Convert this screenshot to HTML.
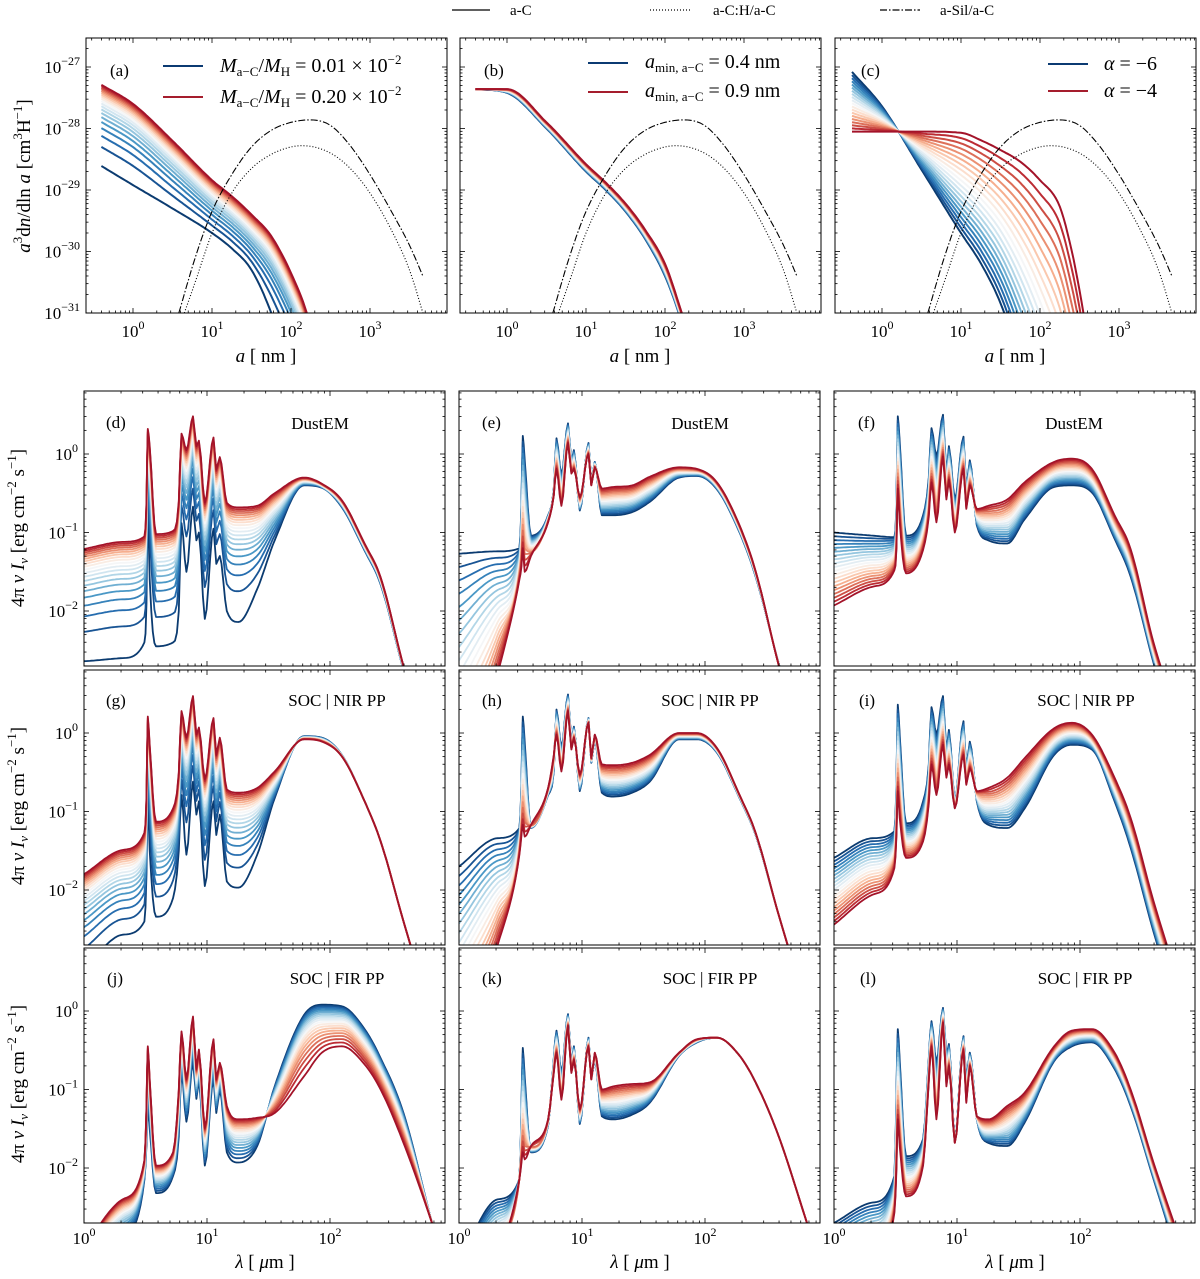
<!DOCTYPE html>
<html><head><meta charset="utf-8"><style>
html,body{margin:0;padding:0;background:#fff;}
svg{display:block;font-family:"Liberation Serif",serif;}
</style></head><body>
<svg id="chart" width="1200" height="1279" viewBox="0 0 1200 1279" xmlns="http://www.w3.org/2000/svg">
<rect x="0" y="0" width="1200" height="1279" fill="#fff"/>
<g font-size="15">
  <line x1="452" y1="10" x2="490" y2="10" stroke="#000" stroke-width="1.3"/>
  <text x="510" y="15">a-C</text>
  <line x1="650" y1="10" x2="690" y2="10" stroke="#000" stroke-width="1.3" stroke-dasharray="1 2"/>
  <text x="713" y="15">a-C:H/a-C</text>
  <line x1="880" y1="10" x2="920" y2="10" stroke="#000" stroke-width="1.3" stroke-dasharray="7 2 1.5 2"/>
  <text x="940" y="15">a-Sil/a-C</text>
</g>
<g id="plots"></g>
<g font-size="19">
  <text transform="translate(30,176) rotate(-90)" text-anchor="middle"><tspan font-style="italic">a</tspan><tspan font-size="13" dy="-8">3</tspan><tspan dy="8">d</tspan><tspan font-style="italic">n</tspan>/dln<tspan font-style="italic"> a</tspan> [cm<tspan font-size="13" dy="-8">3</tspan><tspan dy="8">H</tspan><tspan font-size="13" dy="-8">−1</tspan><tspan dy="8">]</tspan></text>
  <text transform="translate(24,528) rotate(-90)" text-anchor="middle">4π <tspan font-style="italic">ν I</tspan><tspan font-size="13" font-style="italic" dy="4">ν</tspan><tspan dy="-4"> [erg cm</tspan><tspan font-size="13" dy="-8">−2</tspan><tspan dy="8"> s</tspan><tspan font-size="13" dy="-8">−1</tspan><tspan dy="8">]</tspan></text>
  <text transform="translate(24,806) rotate(-90)" text-anchor="middle">4π <tspan font-style="italic">ν I</tspan><tspan font-size="13" font-style="italic" dy="4">ν</tspan><tspan dy="-4"> [erg cm</tspan><tspan font-size="13" dy="-8">−2</tspan><tspan dy="8"> s</tspan><tspan font-size="13" dy="-8">−1</tspan><tspan dy="8">]</tspan></text>
  <text transform="translate(24,1084) rotate(-90)" text-anchor="middle">4π <tspan font-style="italic">ν I</tspan><tspan font-size="13" font-style="italic" dy="4">ν</tspan><tspan dy="-4"> [erg cm</tspan><tspan font-size="13" dy="-8">−2</tspan><tspan dy="8"> s</tspan><tspan font-size="13" dy="-8">−1</tspan><tspan dy="8">]</tspan></text>
  <text x="266" y="362" text-anchor="middle"><tspan font-style="italic">a</tspan> [ nm ]</text>
  <text x="640" y="362" text-anchor="middle"><tspan font-style="italic">a</tspan> [ nm ]</text>
  <text x="1015" y="362" text-anchor="middle"><tspan font-style="italic">a</tspan> [ nm ]</text>
  <text x="265" y="1268" text-anchor="middle"><tspan font-style="italic">λ</tspan> [ <tspan font-style="italic">μ</tspan>m ]</text>
  <text x="640" y="1268" text-anchor="middle"><tspan font-style="italic">λ</tspan> [ <tspan font-style="italic">μ</tspan>m ]</text>
  <text x="1015" y="1268" text-anchor="middle"><tspan font-style="italic">λ</tspan> [ <tspan font-style="italic">μ</tspan>m ]</text>
</g>
<g font-size="17">
  <text x="110" y="76">(a)</text>
  <text x="484" y="76">(b)</text>
  <text x="861" y="76">(c)</text>
  <text x="106" y="428">(d)</text>
  <text x="482" y="428">(e)</text>
  <text x="858" y="428">(f)</text>
  <text x="106" y="706">(g)</text>
  <text x="482" y="706">(h)</text>
  <text x="859" y="706">(i)</text>
  <text x="107" y="984">(j)</text>
  <text x="482" y="984">(k)</text>
  <text x="860" y="984">(l)</text>
  <text x="320" y="429" text-anchor="middle">DustEM</text>
  <text x="700" y="429" text-anchor="middle">DustEM</text>
  <text x="1074" y="429" text-anchor="middle">DustEM</text>
  <text x="337" y="706" text-anchor="middle">SOC | NIR PP</text>
  <text x="710" y="706" text-anchor="middle">SOC | NIR PP</text>
  <text x="1086" y="706" text-anchor="middle">SOC | NIR PP</text>
  <text x="337" y="984" text-anchor="middle">SOC | FIR PP</text>
  <text x="710" y="984" text-anchor="middle">SOC | FIR PP</text>
  <text x="1085" y="984" text-anchor="middle">SOC | FIR PP</text>
</g>
<g font-size="20">
  <line x1="163" y1="66" x2="203" y2="66" stroke="#0b3a72" stroke-width="2"/>
  <line x1="163" y1="97" x2="203" y2="97" stroke="#a51d2d" stroke-width="2"/>
  <text x="220" y="72"><tspan font-style="italic">M</tspan><tspan font-size="13" dy="4">a−C</tspan><tspan dy="-4">/</tspan><tspan font-style="italic">M</tspan><tspan font-size="13" dy="4">H</tspan><tspan dy="-4"> = 0.01 × 10</tspan><tspan font-size="13" dy="-8">−2</tspan></text>
  <text x="220" y="103"><tspan font-style="italic">M</tspan><tspan font-size="13" dy="4">a−C</tspan><tspan dy="-4">/</tspan><tspan font-style="italic">M</tspan><tspan font-size="13" dy="4">H</tspan><tspan dy="-4"> = 0.20 × 10</tspan><tspan font-size="13" dy="-8">−2</tspan></text>
  <line x1="588" y1="63" x2="628" y2="63" stroke="#0b3a72" stroke-width="2"/>
  <line x1="588" y1="92" x2="628" y2="92" stroke="#a51d2d" stroke-width="2"/>
  <text x="645" y="68"><tspan font-style="italic">a</tspan><tspan font-size="13" dy="4">min, a−C</tspan><tspan dy="-4"> = 0.4 nm</tspan></text>
  <text x="645" y="97"><tspan font-style="italic">a</tspan><tspan font-size="13" dy="4">min, a−C</tspan><tspan dy="-4"> = 0.9 nm</tspan></text>
  <line x1="1048" y1="64" x2="1088" y2="64" stroke="#0b3a72" stroke-width="2"/>
  <line x1="1048" y1="91" x2="1088" y2="91" stroke="#a51d2d" stroke-width="2"/>
  <text x="1104" y="70"><tspan font-style="italic">α</tspan> = −6</text>
  <text x="1104" y="97"><tspan font-style="italic">α</tspan> = −4</text>
</g>
</svg>
<script>
// ---------- data: wavelength grid (μm) and log10 intensities for boundary curves ----------
const lam = [1,2.06,3.1,3.22,3.3,3.42,3.85,5.3,5.9,6.2,6.8,7.7,8.2,8.6,9.6,11.3,11.9,12.7,14.5,18,25.6,35.5,61.6,86,125,191,258,396,675,900];
const dBlue = [-2.64,-2.6,-2.4,-1.9,-0.7,-1.6,-2.45,-2.4,-2.0,-0.88,-1.5,-0.67,-1.1,-1.0,-2.1,-0.95,-1.4,-1.3,-2.0,-2.14,-1.72,-1.1,-0.4,-0.43,-0.68,-1.23,-1.66,-2.75,-4.0,-4.6];
const dRed = [-1.21,-1.12,-1.05,-0.6,0.32,0.1,-1.02,-0.98,-0.6,0.26,0.05,0.48,0.1,0.17,-0.62,0.21,-0.2,-0.04,-0.62,-0.68,-0.66,-0.5,-0.3,-0.38,-0.59,-1.14,-1.57,-2.7,-3.9,-4.5];
const eBlue = [-1.27,-1.24,-1.2,-0.6,0.23,-0.07,-1.04,-0.78,-0.44,0.2,-0.27,0.39,-0.1,0.05,-0.72,0.14,-0.35,-0.1,-0.78,-0.78,-0.74,-0.61,-0.3,-0.28,-0.45,-1.0,-1.56,-2.66,-3.9,-4.5];
const eRed = [-4.5,-2.8,-1.6,-1.43,-1.2,-1.5,-1.3,-0.87,-0.53,-0.19,-0.66,0.14,-0.25,-0.19,-0.55,0,-0.4,-0.17,-0.44,-0.42,-0.4,-0.29,-0.17,-0.19,-0.36,-0.91,-1.49,-2.68,-3.9,-4.5];
const fBlue = [-1.0,-1.04,-1.06,-0.6,0.48,0.16,-1.04,-0.78,-0.3,0.33,-0.03,0.5,-0.25,0.1,-0.58,0.22,-0.44,-0.08,-0.91,-1.1,-1.14,-0.83,-0.42,-0.4,-0.49,-1.08,-1.56,-2.66,-3.9,-4.5];
const fRed = [-1.93,-1.69,-1.48,-1.2,-0.44,-0.87,-1.52,-1.22,-0.8,-0.36,-0.87,-0.03,-0.58,-0.33,-1.0,-0.19,-0.7,-0.4,-0.7,-0.66,-0.58,-0.36,-0.1,-0.06,-0.19,-0.78,-1.21,-2.4,-3.5,-4.1];
const gBlue = [-3.0,-2.57,-2.4,-1.8,-0.87,-1.5,-2.34,-2.1,-1.5,-0.79,-1.55,-0.62,-1.04,-0.87,-1.95,-0.87,-1.3,-1.04,-1.89,-1.97,-1.55,-0.83,-0.04,-0.06,-0.28,-0.87,-1.38,-2.4,-3.6,-4.2];
const gRed = [-1.8,-1.49,-1.27,-0.8,0.21,-0.15,-1.13,-0.96,-0.5,0.28,-0.06,0.47,-0.02,0.07,-0.59,0.19,-0.28,-0.06,-0.72,-0.76,-0.7,-0.49,-0.08,-0.11,-0.3,-0.87,-1.38,-2.4,-3.6,-4.2];
const hBlue = [-1.7,-1.34,-1.21,-0.6,0.21,-0.11,-1.21,-0.79,-0.49,0.3,-0.19,0.49,-0.11,0.08,-0.74,0.19,-0.38,-0.08,-0.76,-0.81,-0.76,-0.62,-0.08,-0.08,-0.25,-0.83,-1.3,-2.31,-3.5,-4.1];
const hRed = [-4.0,-2.7,-1.55,-1.3,-1.17,-1.32,-1.17,-0.7,-0.28,-0.02,-0.49,0.28,-0.21,-0.06,-0.53,0.13,-0.32,-0.02,-0.4,-0.41,-0.38,-0.28,0,0,-0.19,-0.79,-1.27,-2.31,-3.5,-4.1];
const iBlue = [-1.59,-1.34,-1.25,-0.6,0.36,-0.02,-1.15,-0.87,-0.4,0.33,-0.02,0.47,-0.23,0.04,-0.87,0.15,-0.45,-0.11,-0.87,-1.17,-1.21,-0.96,-0.28,-0.15,-0.21,-0.87,-1.46,-2.53,-3.7,-4.3];
const iRed = [-2.44,-2.06,-1.72,-1.3,-0.74,-1.08,-1.59,-1.38,-0.9,-0.4,-0.79,-0.15,-0.57,-0.4,-0.96,-0.28,-0.66,-0.45,-0.74,-0.7,-0.57,-0.32,0.06,0.13,-0.02,-0.57,-1.08,-2.14,-3.3,-3.9];
const jBlue = [-3.2,-2.9,-2.15,-1.7,-1.24,-1.5,-2.32,-2.1,-1.6,-0.77,-1.41,-0.65,-1.12,-0.87,-1.97,-0.87,-1.3,-1.0,-1.8,-1.93,-1.72,-0.96,-0.05,0.08,0.06,-0.23,-0.6,-1.3,-2.7,-3.4];
const jRed = [-3.0,-2.4,-1.9,-1.2,-0.45,-0.87,-1.97,-1.8,-1.0,-0.26,-0.87,-0.07,-0.74,-0.49,-1.49,-0.36,-0.87,-0.66,-1.21,-1.38,-1.36,-1.3,-0.83,-0.53,-0.45,-0.68,-1.0,-1.68,-2.7,-3.3];
const kBlue = [-3.2,-2.4,-2.14,-1.2,-0.47,-0.83,-1.8,-1.46,-0.6,-0.25,-0.79,-0.04,-0.66,-0.45,-1.44,-0.34,-0.87,-0.62,-1.34,-1.38,-1.32,-1.17,-0.57,-0.4,-0.34,-0.57,-0.91,-1.59,-2.7,-3.3];
const kRed = [-3.6,-3.1,-2.14,-1.93,-1.8,-1.89,-1.72,-1.38,-0.79,-0.53,-1.13,-0.19,-0.79,-0.62,-1.25,-0.45,-0.87,-0.53,-1.0,-0.96,-0.93,-0.91,-0.53,-0.36,-0.34,-0.57,-0.91,-1.59,-2.7,-3.3];
const lBlue = [-2.7,-2.44,-2.1,-1.0,-0.23,-0.62,-1.85,-1.63,-0.6,-0.13,-0.66,0.04,-0.57,-0.42,-1.63,-0.32,-0.87,-0.53,-1.38,-1.68,-1.72,-1.42,-0.64,-0.45,-0.4,-0.74,-1.21,-2.14,-3.3,-3.9];
const lRed = [-3.4,-3.2,-2.57,-2.0,-1.38,-1.72,-2.36,-1.97,-0.9,-0.45,-1.38,-0.15,-0.96,-0.7,-1.68,-0.49,-1.17,-0.7,-1.34,-1.38,-1.21,-1.04,-0.45,-0.25,-0.23,-0.53,-1.0,-1.93,-3.0,-3.6];
// size distributions (log10 a [nm], log10 a^3 dn/dln a)
const logA = [-0.4,0,0.5,1,1.25,1.5,1.75,2,2.2,2.4];
const aBlue = [-28.61,-28.92,-29.3,-29.7,-29.95,-30.3,-31.0,-32,-33,-34];
const aRed = [-27.29,-27.6,-28.2,-28.84,-29.1,-29.4,-29.75,-30.35,-31.0,-32];
const bBlue = [-27.36,-27.42,-28.0,-28.7,-29.0,-29.35,-29.8,-30.4,-31.1,-32];
const bRed = [-27.36,-27.36,-27.9,-28.58,-28.88,-29.22,-29.65,-30.2,-30.95,-31.8];
const logAc = [-0.38,0,0.5,1,1.25,1.5,1.75,2,2.25,2.4,2.5,2.6];
const cBlue = [-27.08,-27.64,-28.67,-29.7,-30.19,-30.84,-31.8,-33,-34.5,-35.5,-36,-37];
const cRed = [-28.05,-28.05,-28.05,-28.07,-28.19,-28.35,-28.54,-28.84,-29.27,-29.98,-30.63,-31.4];
const silA = [0.58,0.8,1,1.25,1.5,1.75,2,2.24,2.5,2.75,3,3.25,3.5,3.67];
const silV = [-31,-30.05,-29.35,-28.75,-28.3,-28.03,-27.9,-27.86,-27.95,-28.28,-28.75,-29.3,-29.9,-30.4];
const achA = [0.65,0.8,1,1.25,1.5,1.75,2,2.15,2.5,2.75,3,3.25,3.5,3.67];
const achV = [-31,-30.45,-29.7,-29.05,-28.65,-28.42,-28.3,-28.28,-28.4,-28.65,-29.05,-29.6,-30.3,-31.0];
const nCurves = 20;
const yTicksTop = [-27,-28,-29,-30,-31];
const xTicksTop = [0,1,2,3];
const yTicksBot = [0,-1,-2];
const xTicksBot = [0,1,2];

const NS = 'http://www.w3.org/2000/svg';
const root = document.getElementById('plots');
function mk(tag, attrs, parent){
  const e = document.createElementNS(NS, tag);
  for (const k in attrs) e.setAttribute(k, attrs[k]);
  (parent || root).appendChild(e);
  return e;
}
const stops = [[0,[5,48,97]],[0.1,[33,102,172]],[0.2,[67,147,195]],[0.3,[146,197,222]],[0.4,[209,229,240]],[0.5,[247,247,247]],[0.6,[253,219,199]],[0.7,[244,165,130]],[0.8,[214,96,77]],[0.9,[178,24,43]],[1,[103,0,31]]];
function cmap(t){
  for (let i=0;i<stops.length-1;i++){
    const a=stops[i], b=stops[i+1];
    if (t<=b[0]){ const f=(t-a[0])/(b[0]-a[0]); const c=a[1].map((v,k)=>Math.round(v+(b[1][k]-v)*f)); return 'rgb('+c.join(',')+')'; }
  }
  return 'rgb(103,0,31)';
}
function mix(b, r, t, mode){
  return b.map((v,i)=> mode==='lin' ? Math.log10((1-t)*Math.pow(10,v) + t*Math.pow(10,r[i])) : (1-t)*v + t*r[i]);
}
function smooth(pts){
  const n = pts.length; if (n < 3) return pts;
  const x = pts.map(p=>p[0]), y = pts.map(p=>p[1]);
  const d = [], m = new Array(n);
  for (let i=0;i<n-1;i++) d.push((y[i+1]-y[i])/(x[i+1]-x[i]));
  m[0]=d[0]; m[n-1]=d[n-2];
  for (let i=1;i<n-1;i++){ m[i] = (d[i-1]*d[i] <= 0) ? 0 : (d[i-1]+d[i])/2; }
  for (let i=0;i<n-1;i++){
    if (d[i]===0){ m[i]=0; m[i+1]=0; continue; }
    const a=m[i]/d[i], b=m[i+1]/d[i], s=a*a+b*b;
    if (s>9){ const tt=3/Math.sqrt(s); m[i]=tt*a*d[i]; m[i+1]=tt*b*d[i]; }
  }
  const out=[];
  for (let i=0;i<n-1;i++){
    const h=x[i+1]-x[i], steps=Math.max(2, Math.ceil(h/2));
    for (let s=0;s<steps;s++){
      const t=s/steps, t2=t*t, t3=t2*t;
      const yy=(2*t3-3*t2+1)*y[i]+(t3-2*t2+t)*h*m[i]+(-2*t3+3*t2)*y[i+1]+(t3-t2)*h*m[i+1];
      out.push([x[i]+t*h, yy]);
    }
  }
  out.push([x[n-1], y[n-1]]);
  return out;
}
let clipId = 0;
function makePanel(name, left, top, W, H, xs, ys, xr, yr){
  const g = mk('g', {});
  
  
  const cp = mk('clipPath', {id: 'clip' + (++clipId)}, g);
  mk('rect', {x: left, y: top, width: W, height: H}, cp);
  const plot = mk('g', {'clip-path': 'url(#clip' + clipId + ')'}, g);
  
  
  const tg = mk('g', {stroke: '#000', 'stroke-width': 0.8}, g);
  
  
  for (let d = Math.floor(xr[0]); d <= Math.ceil(xr[1]); d++){
    for (let k = 1; k <= 9; k++){
      const v = d + Math.log10(k);
      if (v < xr[0] || v > xr[1]) continue;
      const x = xs(v), L = k === 1 ? 5 : 2.5;
      mk('line', {x1: x, y1: top+H, x2: x, y2: top+H-L}, tg);
      mk('line', {x1: x, y1: top, x2: x, y2: top+L}, tg);
    }
  }
  for (let d = Math.floor(yr[0]); d <= Math.ceil(yr[1]); d++){
    for (let k = 1; k <= 9; k++){
      const v = d + Math.log10(k);
      if (v < yr[0] || v > yr[1]) continue;
      const y = ys(v), L = k === 1 ? 5 : 2.5;
      mk('line', {x1: left, y1: y, x2: left+L, y2: y}, tg);
      mk('line', {x1: left+W, y1: y, x2: left+W-L, y2: y}, tg);
    }
  }
  const fr = mk('rect', {x: left, y: top, width: W, height: H, fill: 'none', stroke: '#000', 'stroke-width': 1}, g);
  
  
  return {g, plot};
}
function powLabel(parent, x, y, exp, anchor, nm){
  const t = mk('text', {x: x, y: y, 'font-size': 17, 'text-anchor': anchor}, parent);
  
  
  const a = mk('tspan', {}, t); a.textContent = '10';
  const b = mk('tspan', {'font-size': 12, dy: -8}, t); b.textContent = exp;
  return t;
}
function poly(parent, pts, attrs, nm){
  const sp = smooth(pts);
  const p = mk('polyline', Object.assign({points: sp.map(q => q[0].toFixed(1)+','+q[1].toFixed(1)).join(' '), fill: 'none', 'stroke-linejoin': 'round'}, attrs), parent);
  
  
  return p;
}

// ---------- top row ----------
const topLefts = [86, 460, 835];
const topT = 38, topW = 361, topH = 275;
const topSets = [[logA, aBlue, aRed, 'lin'], [logA, bBlue, bRed, 'log'], [logAc, cBlue, cRed, 'log']];
['a','b','c'].forEach((nm, ci) => {
  const left = topLefts[ci];
  const xs = v => left + 47 + 79 * v;
  const ys = v => 67 - 61.5 * (v + 27);
  const P = makePanel(nm, left, topT, topW, topH, xs, ys, [-0.59, 3.97], [-31, -26.53]);
  const set = topSets[ci];
  for (let i = 0; i < nCurves; i++){
    const t = i / (nCurves - 1);
    const vals = mix(set[1], set[2], t, set[3]);
    poly(P.plot, set[0].map((a, k) => [xs(a), ys(vals[k])]), {stroke: cmap(0.02 + 0.9 * t), 'stroke-width': 2}, 'size-curve-' + nm + '-' + i);
  }
  poly(P.plot, silA.map((a, k) => [xs(a), ys(silV[k])]), {stroke: '#000', 'stroke-width': 1.1, 'stroke-dasharray': '7 2 1.5 2'}, 'a-sil-curve-' + nm);
  poly(P.plot, achA.map((a, k) => [xs(a), ys(achV[k])]), {stroke: '#000', 'stroke-width': 1.1, 'stroke-dasharray': '1 2'}, 'a-ch-curve-' + nm);
  xTicksTop.forEach(v => powLabel(P.g, xs(v), 337, String(v), 'middle', 'x-tick-label-' + nm + '-' + v));
  if (ci === 0) yTicksTop.forEach(v => powLabel(P.g, left - 6, ys(v) + 6, '−' + String(-v), 'end', 'y-tick-label-' + nm + '-' + v));
});

// ---------- spectra grid ----------
const botLefts = [84, 459, 834];
const botTops = [391, 670, 948];
const botW = 361, botH = 275;
const specSets = [
  ['d', dBlue, dRed, 'lin'], ['e', eBlue, eRed, 'log'], ['f', fBlue, fRed, 'log'],
  ['g', gBlue, gRed, 'lin'], ['h', hBlue, hRed, 'log'], ['i', iBlue, iRed, 'log'],
  ['j', jBlue, jRed, 'lin'], ['k', kBlue, kRed, 'log'], ['l', lBlue, lRed, 'log']
];
specSets.forEach((s, idx) => {
  const r = Math.floor(idx / 3), c = idx % 3;
  const left = botLefts[c], top = botTops[r];
  const xs = v => left + 123 * v;
  const ys = v => top + 63 - 78.5 * v;
  const P = makePanel(s[0], left, top, botW, botH, xs, ys, [0, 2.93], [-2.7, 0.8]);
  for (let i = 0; i < nCurves; i++){
    const t = i / (nCurves - 1);
    const vals = mix(s[1], s[2], t, s[3]);
    poly(P.plot, lam.map((l, k) => [xs(Math.log10(l)), ys(vals[k])]), {stroke: cmap(0.02 + 0.9 * t), 'stroke-width': 1.8}, 'spectrum-' + s[0] + '-' + i);
  }
  if (c === 0) yTicksBot.forEach(v => powLabel(P.g, left - 6, ys(v) + 6, v === 0 ? '0' : '−' + String(-v), 'end', 'y-tick-label-' + s[0] + '-' + v));
  if (r === 2) xTicksBot.forEach(v => powLabel(P.g, xs(v), 1244, String(v), 'middle', 'x-tick-label-' + s[0] + '-' + v));
});
</script>
</body></html>
